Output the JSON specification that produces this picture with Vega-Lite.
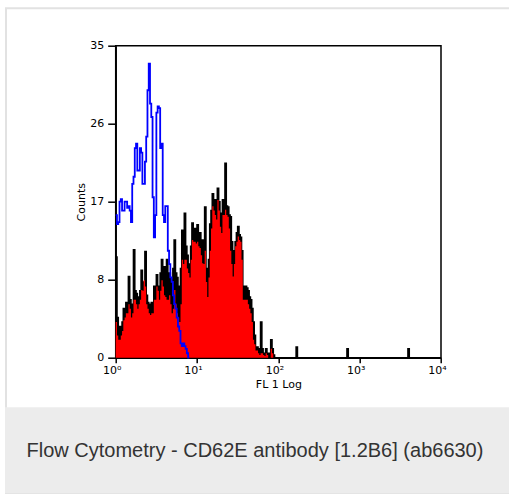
{
  "$schema": "https://vega.github.io/schema/vega-lite/v6.json",
  "width": 325.3,
  "height": 312,
  "autosize": {"type": "none"},
  "padding": {"left": 115.7, "top": 45.7, "right": 68, "bottom": 137.3},
  "background": "white",
  "config": {
    "view": {"stroke": "black", "strokeWidth": 1.5},
    "axis": {
      "grid": false,
      "domainColor": "black",
      "domainWidth": 1.5,
      "tickColor": "black",
      "tickWidth": 1.5,
      "labelColor": "black",
      "titleColor": "black",
      "labelFont": "DejaVu Sans",
      "titleFont": "DejaVu Sans",
      "labelFontSize": 11,
      "titleFontSize": 11,
      "titleFontWeight": "normal",
      "zindex": 1
    }
  },
  "datasets": {
    "hist": [
      {"c": 0, "black": 11.3, "red": 4},
      {"c": 1, "black": 4.5, "red": 2.5},
      {"c": 2, "black": 2.7, "red": 2},
      {"c": 3, "black": 3.5, "red": 2},
      {"c": 4, "black": 3.2, "red": 2.5},
      {"c": 5, "black": 4.0, "red": 3},
      {"c": 6, "black": 5.5, "red": 4.2},
      {"c": 7, "black": 4.8, "red": 4.5},
      {"c": 8, "black": 6.2, "red": 5},
      {"c": 9, "black": 5.5, "red": 5},
      {"c": 10, "black": 9.1, "red": 6},
      {"c": 11, "black": 6.5, "red": 5.5},
      {"c": 12, "black": 6.0, "red": 4.5},
      {"c": 13, "black": 5.2, "red": 5},
      {"c": 14, "black": 12.1, "red": 6.5},
      {"c": 15, "black": 7.5, "red": 6.5},
      {"c": 16, "black": 7.2, "red": 6},
      {"c": 17, "black": 6.5, "red": 5.5},
      {"c": 18, "black": 6.8, "red": 6},
      {"c": 19, "black": 7.5, "red": 6.5},
      {"c": 20, "black": 9.8, "red": 7.6},
      {"c": 21, "black": 8.2, "red": 7.5},
      {"c": 22, "black": 8.5, "red": 8.7},
      {"c": 23, "black": 11.9, "red": 8},
      {"c": 24, "black": 7.0, "red": 6},
      {"c": 25, "black": 6.2, "red": 5.5},
      {"c": 26, "black": 5.5, "red": 5},
      {"c": 27, "black": 6.0, "red": 4.8},
      {"c": 28, "black": 6.2, "red": 5},
      {"c": 29, "black": 5.5, "red": 5},
      {"c": 30, "black": 8.0, "red": 6.5},
      {"c": 31, "black": 7.0, "red": 6.5},
      {"c": 32, "black": 9.3, "red": 8},
      {"c": 33, "black": 8.0, "red": 7.5},
      {"c": 34, "black": 7.6, "red": 6.5},
      {"c": 35, "black": 9.5, "red": 7.5},
      {"c": 36, "black": 11.0, "red": 8.7},
      {"c": 37, "black": 9.0, "red": 8},
      {"c": 38, "black": 10.2, "red": 7},
      {"c": 39, "black": 8.5, "red": 6.8},
      {"c": 40, "black": 11.0, "red": 6.5},
      {"c": 41, "black": 9.0, "red": 6.5},
      {"c": 42, "black": 9.5, "red": 7},
      {"c": 43, "black": 8.0, "red": 6},
      {"c": 44, "black": 8.7, "red": 5},
      {"c": 45, "black": 10.0, "red": 5.5},
      {"c": 46, "black": 13.2, "red": 7.6},
      {"c": 47, "black": 9.5, "red": 6},
      {"c": 48, "black": 9.0, "red": 5},
      {"c": 49, "black": 7.5, "red": 4.5},
      {"c": 50, "black": 8.0, "red": 4},
      {"c": 51, "black": 10.0, "red": 6},
      {"c": 52, "black": 14.3, "red": 11},
      {"c": 53, "black": 12.0, "red": 10.5},
      {"c": 54, "black": 16.2, "red": 11},
      {"c": 55, "black": 12.5, "red": 11},
      {"c": 56, "black": 11.5, "red": 10},
      {"c": 57, "black": 10.5, "red": 9.5},
      {"c": 58, "black": 10.4, "red": 9},
      {"c": 59, "black": 12.5, "red": 11},
      {"c": 60, "black": 15.1, "red": 13.2},
      {"c": 61, "black": 13.5, "red": 13},
      {"c": 62, "black": 14.5, "red": 13},
      {"c": 63, "black": 13.8, "red": 12.8},
      {"c": 64, "black": 14.9, "red": 13},
      {"c": 65, "black": 13.5, "red": 12.5},
      {"c": 66, "black": 14.0, "red": 12.3},
      {"c": 67, "black": 12.5, "red": 11.5},
      {"c": 68, "black": 13.2, "red": 10.6},
      {"c": 69, "black": 11.5, "red": 10.5},
      {"c": 70, "black": 16.9, "red": 12},
      {"c": 71, "black": 10.0, "red": 8.5},
      {"c": 72, "black": 7.2, "red": 6.8},
      {"c": 73, "black": 11.0, "red": 9},
      {"c": 74, "black": 15.0, "red": 12},
      {"c": 75, "black": 16.5, "red": 14.5},
      {"c": 76, "black": 18.4, "red": 17},
      {"c": 77, "black": 17.0, "red": 16.5},
      {"c": 78, "black": 17.7, "red": 16},
      {"c": 79, "black": 16.5, "red": 15.5},
      {"c": 80, "black": 19.0, "red": 17.7},
      {"c": 81, "black": 17.5, "red": 16.5},
      {"c": 82, "black": 16.2, "red": 14.7},
      {"c": 83, "black": 15.0, "red": 14},
      {"c": 84, "black": 17.7, "red": 16},
      {"c": 85, "black": 16.5, "red": 16},
      {"c": 86, "black": 21.8, "red": 16.6},
      {"c": 87, "black": 17.0, "red": 16},
      {"c": 88, "black": 16.9, "red": 15.8},
      {"c": 89, "black": 16.0, "red": 14.5},
      {"c": 90, "black": 15.8, "red": 12},
      {"c": 91, "black": 13.0, "red": 10.5},
      {"c": 92, "black": 11.0, "red": 9.1},
      {"c": 93, "black": 12.0, "red": 10.5},
      {"c": 94, "black": 13.0, "red": 12.5},
      {"c": 95, "black": 14.0, "red": 13},
      {"c": 96, "black": 14.7, "red": 13.6},
      {"c": 97, "black": 13.8, "red": 13.2},
      {"c": 98, "black": 13.5, "red": 13},
      {"c": 99, "black": 12.0, "red": 11},
      {"c": 100, "black": 8.0, "red": 6.5},
      {"c": 101, "black": 7.5, "red": 6.5},
      {"c": 102, "black": 8.0, "red": 6.5},
      {"c": 103, "black": 7.8, "red": 6.5},
      {"c": 104, "black": 7.5, "red": 6},
      {"c": 105, "black": 6.8, "red": 5.5},
      {"c": 106, "black": 6.5, "red": 5},
      {"c": 107, "black": 5.5, "red": 4},
      {"c": 108, "black": 4.0, "red": 2},
      {"c": 109, "black": 2.5, "red": 1.5},
      {"c": 110, "black": 1.0, "red": 0.8},
      {"c": 111, "black": 1.2, "red": 0.8},
      {"c": 112, "black": 1.0, "red": 0.5},
      {"c": 113, "black": 0.5, "red": 0.3},
      {"c": 114, "black": 4.0, "red": 0.5},
      {"c": 115, "black": 1.0, "red": 0.5},
      {"c": 116, "black": 0.5, "red": 0.3},
      {"c": 117, "black": 0.3, "red": 0.2},
      {"c": 118, "black": 1.0, "red": 0.5},
      {"c": 119, "black": 0.5, "red": 0.3},
      {"c": 120, "black": 0.5, "red": 0},
      {"c": 121, "black": 0.3, "red": 0},
      {"c": 122, "black": 2.0, "red": 1},
      {"c": 123, "black": 1.0, "red": 0.5},
      {"c": 124, "black": 0.3, "red": 0},
      {"c": 125, "black": 0, "red": 0},
      {"c": 142, "black": 1.2, "red": 0},
      {"c": 143, "black": 0, "red": 0},
      {"c": 182, "black": 1, "red": 0},
      {"c": 183, "black": 0, "red": 0},
      {"c": 230, "black": 1, "red": 0},
      {"c": 231, "black": 0, "red": 0}
    ],
    "iso": [
      {"c": 0, "blue": 16},
      {"c": 1, "blue": 15},
      {"c": 2, "blue": 15.2},
      {"c": 3, "blue": 17.5},
      {"c": 4, "blue": 17.8},
      {"c": 5, "blue": 16.5},
      {"c": 6, "blue": 16.5},
      {"c": 7, "blue": 17.5},
      {"c": 8, "blue": 17.5},
      {"c": 9, "blue": 16.8},
      {"c": 10, "blue": 17},
      {"c": 11, "blue": 16.5},
      {"c": 12, "blue": 15.2},
      {"c": 13, "blue": 19.5},
      {"c": 14, "blue": 20.3},
      {"c": 15, "blue": 23.5},
      {"c": 16, "blue": 24},
      {"c": 17, "blue": 21},
      {"c": 18, "blue": 21},
      {"c": 19, "blue": 23.5},
      {"c": 20, "blue": 23},
      {"c": 21, "blue": 19.5},
      {"c": 22, "blue": 19.5},
      {"c": 23, "blue": 22},
      {"c": 24, "blue": 24.8},
      {"c": 25, "blue": 30},
      {"c": 26, "blue": 33},
      {"c": 27, "blue": 28.5},
      {"c": 28, "blue": 27},
      {"c": 29, "blue": 18},
      {"c": 30, "blue": 13.5},
      {"c": 31, "blue": 16},
      {"c": 32, "blue": 27.5},
      {"c": 33, "blue": 28.2},
      {"c": 34, "blue": 28},
      {"c": 35, "blue": 23.5},
      {"c": 36, "blue": 24},
      {"c": 37, "blue": 16},
      {"c": 38, "blue": 15.2},
      {"c": 39, "blue": 17},
      {"c": 40, "blue": 17},
      {"c": 41, "blue": 12},
      {"c": 42, "blue": 10.5},
      {"c": 43, "blue": 9},
      {"c": 44, "blue": 8.5},
      {"c": 45, "blue": 7},
      {"c": 46, "blue": 6},
      {"c": 47, "blue": 5.5},
      {"c": 48, "blue": 4.5},
      {"c": 49, "blue": 3.5},
      {"c": 50, "blue": 3},
      {"c": 51, "blue": 1.6},
      {"c": 52, "blue": 1.3},
      {"c": 53, "blue": 1.6},
      {"c": 54, "blue": 1.3},
      {"c": 55, "blue": 1},
      {"c": 56, "blue": 0.5},
      {"c": 57, "blue": 0},
      {"c": 58, "blue": 0}
    ]
  },
  "layer": [
    {
      "data": {"name": "hist"},
      "mark": {"type": "area", "interpolate": "step-after", "color": "black"},
      "encoding": {
        "x": {
          "field": "c", "type": "quantitative", "title": "FL 1 Log",
          "scale": {"domain": [0, 256], "nice": false, "zero": false},
          "axis": {
            "values": [0, 64, 128, 192, 256],
            "labelExpr": "'10' + ['⁰','¹','²','³','⁴'][round(datum.value/64)]",
            "labelFlush": false,
            "labelOffset": -4,
            "tickSize": 5,
            "labelPadding": 2,
            "titlePadding": 3
          }
        },
        "y": {
          "field": "black", "type": "quantitative", "title": "Counts",
          "scale": {"domain": [0, 35], "nice": false},
          "axis": {
            "values": [0, 8.75, 17.5, 26.25, 35],
            "labelExpr": "floor(datum.value)",
            "tickSize": 8,
            "labelPadding": 4,
            "titlePadding": 3
          }
        }
      }
    },
    {
      "data": {"name": "hist"},
      "mark": {"type": "line", "interpolate": "step-after", "color": "black", "strokeWidth": 1.6},
      "encoding": {
        "x": {"field": "c", "type": "quantitative", "title": "FL 1 Log", "scale": {"domain": [0, 256], "nice": false, "zero": false}},
        "y": {"field": "black", "type": "quantitative", "title": "Counts", "scale": {"domain": [0, 35], "nice": false}}
      }
    },
    {
      "data": {"name": "hist"},
      "mark": {"type": "area", "interpolate": "step-after", "color": "#ff0000"},
      "encoding": {
        "x": {"field": "c", "type": "quantitative", "title": "FL 1 Log", "scale": {"domain": [0, 256], "nice": false, "zero": false}},
        "y": {"field": "red", "type": "quantitative", "title": "Counts", "scale": {"domain": [0, 35], "nice": false}}
      }
    },
    {
      "data": {"name": "iso"},
      "mark": {"type": "line", "interpolate": "step-after", "color": "#0000ff", "strokeWidth": 1.8},
      "encoding": {
        "x": {"field": "c", "type": "quantitative", "title": "FL 1 Log", "scale": {"domain": [0, 256], "nice": false, "zero": false}},
        "y": {"field": "blue", "type": "quantitative", "title": "Counts", "scale": {"domain": [0, 35], "nice": false}}
      }
    },
    {
      "data": {"values": [{}]},
      "mark": {"type": "rect", "fill": "transparent", "stroke": "#e2e2e2", "strokeWidth": 2, "clip": false},
      "encoding": {
        "x": {"datum": -86.33, "type": "quantitative", "title": "FL 1 Log", "scale": {"domain": [0, 256], "nice": false, "zero": false}},
        "x2": {"datum": 330},
        "y": {"datum": 39.2, "type": "quantitative", "title": "Counts", "scale": {"domain": [0, 35], "nice": false}},
        "y2": {"datum": -15.18}
      }
    },
    {
      "data": {"values": [{}]},
      "mark": {"type": "rect", "fill": "#ececec", "clip": false},
      "encoding": {
        "x": {"datum": -87.12, "type": "quantitative", "title": "FL 1 Log", "scale": {"domain": [0, 256], "nice": false, "zero": false}},
        "x2": {"datum": 330},
        "y": {"datum": -5.564, "type": "quantitative", "title": "Counts", "scale": {"domain": [0, 35], "nice": false}},
        "y2": {"datum": -15.21}
      }
    },
    {
      "data": {"values": [{}]},
      "mark": {"type": "text", "text": "Flow Cytometry - CD62E antibody [1.2B6] (ab6630)", "font": "Liberation Sans", "fontSize": 20, "color": "#333333", "align": "center", "baseline": "alphabetic", "clip": false},
      "encoding": {
        "x": {"datum": 109.6, "type": "quantitative", "title": "FL 1 Log", "scale": {"domain": [0, 256], "nice": false, "zero": false}},
        "y": {"datum": -11.17, "type": "quantitative", "title": "Counts", "scale": {"domain": [0, 35], "nice": false}}
      }
    }
  ]
}
